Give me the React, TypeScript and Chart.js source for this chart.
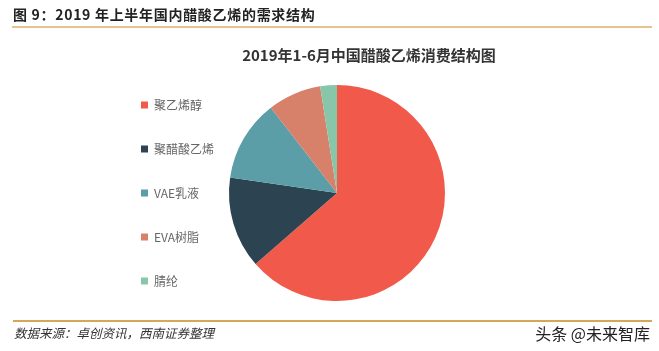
import React, { useEffect, useRef } from "react";
import { Chart, registerables } from "chart.js";

Chart.register(...registerables);

const categories = ["聚乙烯醇", "聚醋酸乙烯", "VAE乳液", "EVA树脂", "腈纶"];
const shares = [63.6, 13.7, 12.2, 8.0, 2.5];
const sliceColors = ["#F15A4A", "#2C4352", "#5B9EA7", "#D7806A", "#88C6AA"];
const chartTitle = "2019年1-6月中国醋酸乙烯消费结构图";
const headerText = "图 9：2019 年上半年国内醋酸乙烯的需求结构";
const sourceText = "数据来源：卓创资讯，西南证券整理";
const brandText = "头条 @未来智库";

const FONT = "'Noto Sans CJK SC', 'Noto Sans', sans-serif";

const titlePlugin = {
  id: "customTitle",
  afterDraw(chart: any) {
    const ctx = chart.ctx;
    ctx.save();
    ctx.font = `bold 15px ${FONT}`;
    ctx.fillStyle = "#333333";
    ctx.textAlign = "center";
    ctx.textBaseline = "middle";
    ctx.fillText(chartTitle, 369, 55);
    ctx.restore();
  },
};

export default function App() {
  const ref = useRef<HTMLCanvasElement>(null);
  useEffect(() => {
    if (!ref.current) return;
    const chart = new Chart(ref.current, {
      type: "pie",
      data: {
        labels: categories,
        datasets: [
          {
            data: shares,
            backgroundColor: sliceColors,
            borderWidth: 0,
            radius: 108,
            clip: false as any,
          } as any,
        ],
      },
      options: {
        responsive: false,
        animation: false,
        layout: { padding: { left: 109, right: 209, top: 65, bottom: 30 } },
        plugins: {
          title: { display: false },
          tooltip: { enabled: false },
          legend: {
            position: "left",
            align: "center",
            labels: {
              boxWidth: 7,
              boxHeight: 7,
              padding: 32,
              color: "#666666",
              font: { size: 12, family: FONT },
            },
          },
        },
      },
      plugins: [titlePlugin],
    });
    return () => chart.destroy();
  }, []);

  return (
    <div style={{ position: "absolute", left: 0, top: 0, width: 659, height: 351, background: "#fff", overflow: "hidden", fontFamily: FONT }}>
      <canvas ref={ref} width={659} height={351} style={{ position: "absolute", left: 0, top: 0, width: 659, height: 351 }} />
      <div style={{ position: "absolute", left: 13, top: 5, fontSize: 14, lineHeight: "18px", fontWeight: "bold", color: "#222", whiteSpace: "nowrap", letterSpacing: "0.7px" }}>{headerText}</div>
      <div style={{ position: "absolute", left: 12, top: 26, width: 640, height: 2, background: "#E3C48E" }} />
      <div style={{ position: "absolute", left: 13, top: 320, width: 639, height: 2, background: "#D6A65A" }} />
      <div style={{ position: "absolute", left: 14, top: 325, fontSize: 12.5, lineHeight: "16px", fontStyle: "italic", color: "#333", whiteSpace: "nowrap" }}>{sourceText}</div>
      <div style={{ position: "absolute", right: 9, top: 323, fontSize: 16, lineHeight: "20px", color: "#222", whiteSpace: "nowrap" }}>{brandText}</div>
    </div>
  );
}
